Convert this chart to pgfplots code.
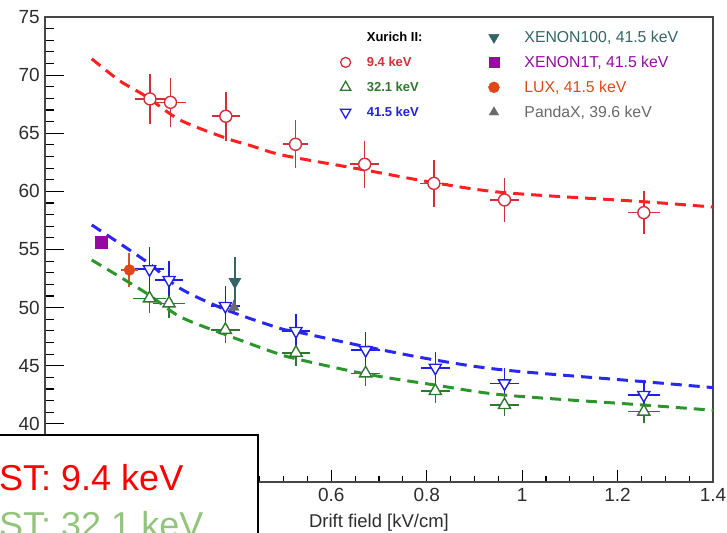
\documentclass[border=0pt]{standalone}
\usepackage{pgfplots}
\pgfplotsset{compat=1.18}
\usepackage{fontspec}
\setmainfont{Liberation Sans}

\definecolor{redpt}{RGB}{208,48,58}
\definecolor{greenpt}{RGB}{48,118,48}
\definecolor{bluept}{RGB}{32,32,228}
\definecolor{redfit}{RGB}{255,32,32}
\definecolor{greenfit}{RGB}{44,150,44}
\definecolor{bluefit}{RGB}{40,40,240}
\definecolor{xe100}{RGB}{52,100,100}
\definecolor{xe1t}{RGB}{150,10,160}
\definecolor{lux}{RGB}{222,72,22}
\definecolor{luxbar}{RGB}{205,85,40}
\definecolor{pandax}{RGB}{105,105,105}
\definecolor{axisgray}{RGB}{70,70,70}
\definecolor{ticktext}{RGB}{45,45,45}
\definecolor{nestgreen}{RGB}{147,196,125}

% Xurich II measurements: x, y, x error, y error
\pgfplotstableread{
x     y      ex    ey
0.220 67.95  0.032 2.15
0.263 67.66  0.032 2.10
0.379 66.46  0.030 2.10
0.525 64.05  0.026 2.05
0.670 62.33  0.030 2.00
0.815 60.69  0.030 2.00
0.963 59.26  0.030 1.90
1.255 58.17  0.034 1.85
}\kevA
\pgfplotstableread{
x     y      ex    ey
0.219 50.80  0.034 1.30
0.260 50.37  0.034 1.25
0.378 48.08  0.030 1.15
0.526 46.12  0.030 1.15
0.672 44.35  0.030 1.10
0.818 42.83  0.030 1.00
0.963 41.62  0.030 0.95
1.255 41.05  0.034 1.00
}\kevB
\pgfplotstableread{
x     y      ex    ey
0.219 53.30  0.030 1.90
0.260 52.38  0.030 1.65
0.378 50.14  0.030 1.75
0.526 47.99  0.030 1.50
0.672 46.35  0.030 1.55
0.818 44.83  0.030 1.35
0.963 43.49  0.030 1.30
1.255 42.48  0.034 1.10
}\kevC
% LUX, XENON100 and PandaX points
\pgfplotstableread{
x     y     ex    ey
0.177 53.24 0.018 1.45
}\luxdata
\pgfplotstableread{
x     y     ex    ey
0.398 52.23 0.0   2.1
}\xehdata
\pgfplotstableread{
x     y     ex    ey
0.396 50.03 0.0   0.6
}\pandadata

\begin{document}
\begin{tikzpicture}
\useasboundingbox (-45pt,-50pt) rectangle (682pt,482pt);
\begin{scope}
\clip (-45pt,-50pt) rectangle (682pt,482pt);
\begin{pgfinterruptboundingbox}
\begin{axis}[
  at={(0pt,0pt)}, anchor=south west,
  scale only axis, width=668pt, height=465pt,
  xmin=0, xmax=1.4, ymin=35, ymax=75,
  axis line style={draw=axisgray, line width=1.5pt},
  xtick={0,0.2,0.4,0.6,0.8,1,1.2,1.4},
  xticklabels={,,,0.6,0.8,1,1.2,1.4},
  minor x tick num=3,
  ytick={35,40,45,50,55,60,65,70,75},
  yticklabels={,40,45,50,55,60,65,70,75},
  minor y tick num=4,
  tick align=inside, xtick pos=left, ytick pos=left,
  major tick length=19pt, minor tick length=9pt,
  xtick style={/pgfplots/major tick length=12pt, /pgfplots/minor tick length=6pt},
  every tick/.style={black, line width=1.2pt},
  ticklabel style={font=\fontsize{19}{22}\selectfont, text=ticktext},
  /pgf/number format/assume math mode=true,
  yticklabel style={anchor=east, inner sep=0pt, xshift=-5pt},
  xticklabel style={anchor=base, inner sep=0pt, yshift=-19pt},
  xlabel={Drift field [kV/cm]},
  xlabel style={at={(axis description cs:0.5,0)}, anchor=base, inner sep=0pt, yshift=-45.7pt, font=\fontsize{18.5}{21}\selectfont, text=ticktext},
  legend columns=2,
  legend cell align=left,
  legend style={at={(axis description cs:0.4325,0.979)}, anchor=north west, draw=none, fill=none,
    font=\fontsize{15.8}{18}\selectfont, row sep=8pt,
    /tikz/column 1/.style={column sep=14pt},
    /tikz/column 2/.style={column sep=64pt},
    /tikz/column 3/.style={column sep=23pt}},
  error bars/error mark=none,
]

% Xurich II data with errors (markers filled white so bars stop at the edge)
\addplot[forget plot, only marks, mark=*, mark size=6pt,
  mark options={draw=redpt, fill=white, line width=1.4pt},
  error bars/.cd, x dir=both, x explicit, y dir=both, y explicit,
  error bar style={draw=redpt, line width=1.6pt}]
  table[x=x, y=y, x error=ex, y error=ey] {\kevA};
\addplot[forget plot, only marks, mark=triangle*, mark size=7pt,
  mark options={draw=greenpt, fill=white, line width=1.4pt},
  error bars/.cd, x dir=both, x explicit, y dir=both, y explicit,
  error bar style={draw=greenpt, line width=1.6pt}]
  table[x=x, y=y, x error=ex, y error=ey] {\kevB};
\addplot[forget plot, only marks, mark=triangle*, mark size=7pt,
  mark options={draw=bluept, fill=white, line width=1.4pt, rotate=180},
  error bars/.cd, x dir=both, x explicit, y dir=both, y explicit,
  error bar style={draw=bluept, line width=1.6pt}]
  table[x=x, y=y, x error=ex, y error=ey] {\kevC};

% other experiments
\addplot[forget plot, only marks, mark=square*, mark size=6pt, mark options={draw=xe1t, fill=xe1t}]
  coordinates {(0.117,55.59)};
\addplot[forget plot, only marks, mark=*, mark size=5.5pt, mark options={draw=lux, fill=lux},
  error bars/.cd, x dir=both, x explicit, y dir=both, y explicit,
  error bar style={draw=luxbar, line width=2pt}]
  table[x=x, y=y, x error=ex, y error=ey] {\luxdata};
\addplot[forget plot, only marks, mark=triangle*, mark size=6pt, mark options={draw=pandax, fill=pandax},
  error bars/.cd, y dir=both, y explicit,
  error bar style={draw=pandax, line width=1.6pt}]
  table[x=x, y=y, y error=ey] {\pandadata};
\addplot[forget plot, only marks, mark=triangle*, mark size=7pt, mark options={draw=xe100, fill=xe100, rotate=180},
  error bars/.cd, y dir=both, y explicit,
  error bar style={draw=xe100, line width=1.6pt}]
  table[x=x, y=y, y error=ey] {\xehdata};

% model curves
\addplot[forget plot, redfit, line width=3pt, dash pattern=on 11pt off 7pt, smooth]
  coordinates {(0.098,71.40) (0.157,69.50) (0.213,68.14) (0.283,66.14) (0.380,64.57) (0.430,63.95)
               (0.500,63.10) (0.670,61.84) (0.815,60.75) (0.963,59.89) (1.255,59.11) (1.400,58.65)};
\addplot[forget plot, greenfit, line width=3pt, dash pattern=on 11pt off 7pt, smooth]
  coordinates {(0.098,54.10) (0.213,51.23) (0.283,49.22) (0.380,47.65) (0.480,46.15) (0.526,45.60)
               (0.672,44.29) (0.818,43.34) (0.963,42.48) (1.255,41.62) (1.400,41.17)};
\addplot[forget plot, bluefit, line width=3pt, dash pattern=on 11pt off 7pt, smooth]
  coordinates {(0.098,57.11) (0.213,53.95) (0.283,51.66) (0.380,49.80) (0.492,48.22) (0.526,47.93)
               (0.672,46.64) (0.818,45.49) (0.963,44.63) (1.255,43.63) (1.400,43.12)};

% legend
\addlegendimage{empty legend}
\addlegendentry{\fontsize{13}{15}\selectfont\bfseries Xurich II:}
\addlegendimage{only marks, mark=triangle*, mark size=6pt, mark options={draw=xe100, fill=xe100, rotate=180}}
\addlegendentry{\textcolor{xe100}{XENON100, 41.5 keV}}
\addlegendimage{only marks, mark=o, mark size=5pt, mark options={draw=redpt, line width=1.3pt}}
\addlegendentry{\fontsize{13}{15}\selectfont\bfseries\textcolor{redpt}{9.4 keV}}
\addlegendimage{only marks, mark=square*, mark size=5pt, mark options={draw=xe1t, fill=xe1t}}
\addlegendentry{\textcolor{xe1t}{XENON1T, 41.5 keV}}
\addlegendimage{only marks, mark=triangle, mark size=6pt, mark options={draw=greenpt, line width=1.3pt}}
\addlegendentry{\fontsize{13}{15}\selectfont\bfseries\textcolor{greenpt}{32.1 keV}}
\addlegendimage{only marks, mark=*, mark size=5.5pt, mark options={draw=lux, fill=lux}}
\addlegendentry{\textcolor{lux}{LUX, 41.5 keV}}
\addlegendimage{only marks, mark=triangle, mark size=6pt, mark options={draw=bluept, line width=1.3pt, rotate=180}}
\addlegendentry{\fontsize{13}{15}\selectfont\bfseries\textcolor{bluept}{41.5 keV}}
\addlegendimage{only marks, mark=triangle*, mark size=5.5pt, mark options={draw=pandax, fill=pandax}}
\addlegendentry{\textcolor{pandax}{PandaX, 39.6 keV}}
\end{axis}

% NEST caption box in the lower left corner
\draw[line width=2.6pt, fill=white] (-70pt,-80pt) rectangle (213pt,47pt);
\node[anchor=base west, inner sep=0pt, text=red, font=\fontsize{36}{40}\selectfont] at (-46pt,-8.7pt) {ST: 9.4 keV};
\node[anchor=base west, inner sep=0pt, text=nestgreen, font=\fontsize{36}{40}\selectfont] at (-46pt,-55.3pt) {ST: 32.1 keV};
\end{pgfinterruptboundingbox}
\end{scope}
\end{tikzpicture}
\end{document}
